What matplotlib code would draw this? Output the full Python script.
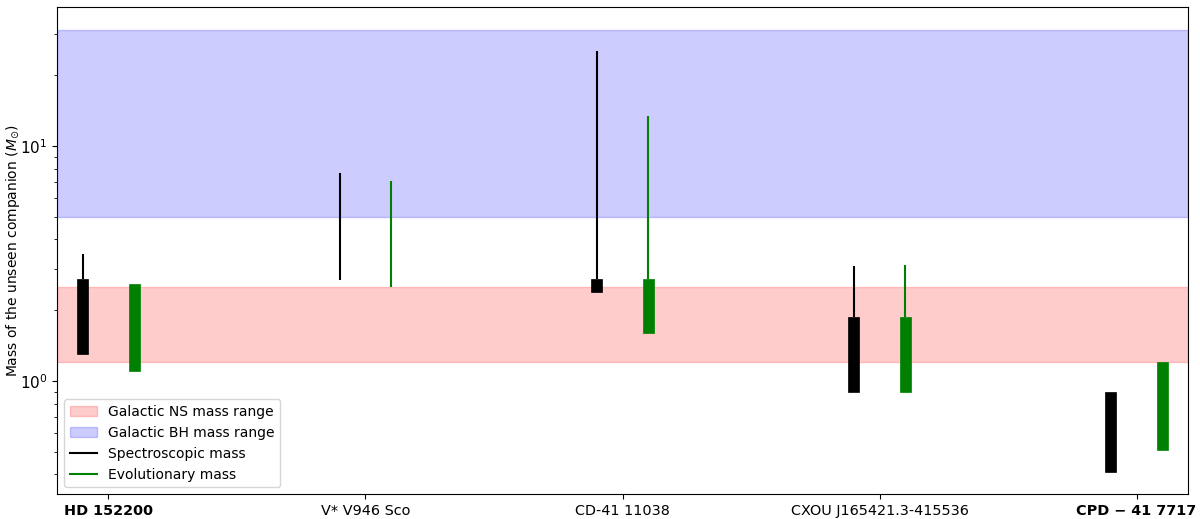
import matplotlib
matplotlib.use("Agg")
import matplotlib.pyplot as plt
import numpy as np

stars = ["HD 152200", "V* V946 Sco", "CD-41 11038", "CXOU J165421.3-415536", "CPD − 41 7717"]
bold_labels = [True, False, False, False, True]

# Spectroscopic mass: bar (low, high) and whisker (low, high)
spec_bar_low = [1.30, None, 2.39, 0.90, 0.41]
spec_bar_high = [2.72, None, 2.72, 1.87, 0.90]
spec_line_low = [2.72, 2.69, 2.72, 1.87, None]
spec_line_high = [3.47, 7.7, 25.4, 3.09, None]

# Evolutionary mass
evo_bar_low = [1.10, None, 1.60, 0.90, 0.51]
evo_bar_high = [2.59, None, 2.72, 1.87, 1.20]
evo_line_low = [None, 2.50, 2.72, 1.87, None]
evo_line_high = [None, 7.1, 13.4, 3.1, None]

ns_range = [1.2, 2.5]
bh_range = [5.0, 31.0]

fig = plt.figure(figsize=(12, 5.19), dpi=100)
ax = fig.add_axes([0.0475, 0.048, 0.9425, 0.9385])

ax.axhspan(ns_range[0], ns_range[1], color="red", alpha=0.2, label="Galactic NS mass range")
ax.axhspan(bh_range[0], bh_range[1], color="blue", alpha=0.2, label="Galactic BH mass range")

x = np.arange(len(stars))
off = 0.1
bw = 0.042

def draw(xs, bl, bh, ll, lh, color):
    for xi, b0, b1, l0, l1 in zip(xs, bl, bh, ll, lh):
        if l0 is not None:
            ax.vlines(xi, l0, l1, color=color, lw=1.5, zorder=3)
        if b0 is not None:
            ax.bar(xi, b1 - b0, bottom=b0, width=bw, color=color,
                   edgecolor=color, linewidth=0.5, zorder=4)

draw(x - off, spec_bar_low, spec_bar_high, spec_line_low, spec_line_high, "black")
draw(x + off, evo_bar_low, evo_bar_high, evo_line_low, evo_line_high, "green")

ax.plot([], [], color="black", lw=1.5, label="Spectroscopic mass")
ax.plot([], [], color="green", lw=1.5, label="Evolutionary mass")

ax.set_yscale("log")
ax.set_ylim(0.33, 39)
ax.set_xlim(-0.2, 4.2)
ax.set_xticks(x)
ax.set_xticklabels(stars, fontsize=10.4)
for lab, b in zip(ax.get_xticklabels(), bold_labels):
    if b:
        lab.set_fontweight("bold")
ax.tick_params(axis="y", labelsize=11)
ax.set_ylabel(r"Mass of the unseen companion ($M_{\odot}$)", fontsize=10)
ax.yaxis.set_label_coords(-0.031, 0.5)
ax.legend(loc="lower left", fontsize=10)

fig.savefig("out.png", dpi=100)
